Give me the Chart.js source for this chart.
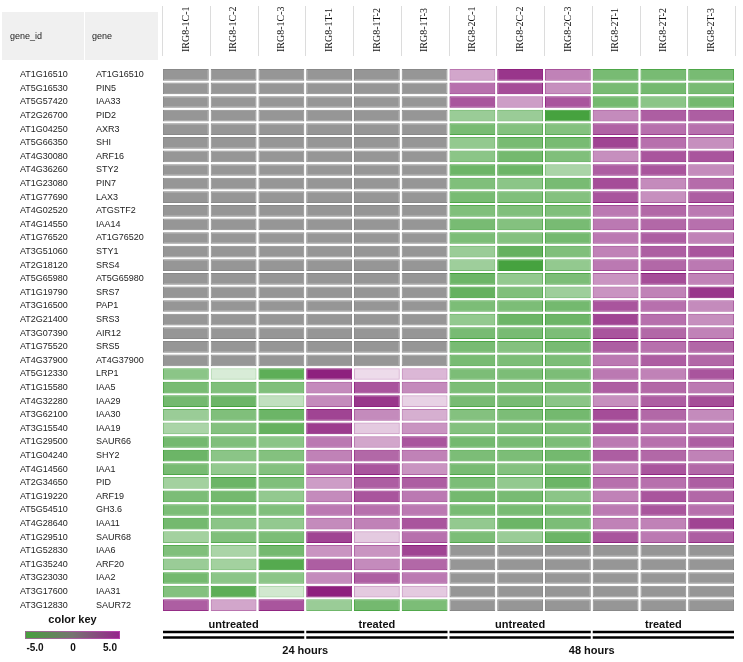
<!DOCTYPE html>
<html>
<head>
<meta charset="utf-8">
<title>Heatmap auxin genes</title>
<script src="https://cdn.jsdelivr.net/npm/chart.js@4.4.1/dist/chart.umd.min.js"></script>
<style>
  body { margin: 0; background: #fff; }
  #wadah { width: 743px; height: 662px; }
</style>
</head>
<body>
<div id="wadah"><canvas id="grafikHeatmap"></canvas></div>
<script>
// Rows (top to bottom)
const geneIds = [
  'AT1G16510', 'AT5G16530', 'AT5G57420', 'AT2G26700', 'AT1G04250', 'AT5G66350', 'AT4G30080', 'AT4G36260',
  'AT1G23080', 'AT1G77690', 'AT4G02520', 'AT4G14550', 'AT1G76520', 'AT3G51060', 'AT2G18120', 'AT5G65980',
  'AT1G19790', 'AT3G16500', 'AT2G21400', 'AT3G07390', 'AT1G75520', 'AT4G37900', 'AT5G12330', 'AT1G15580',
  'AT4G32280', 'AT3G62100', 'AT3G15540', 'AT1G29500', 'AT1G04240', 'AT4G14560', 'AT2G34650', 'AT1G19220',
  'AT5G54510', 'AT4G28640', 'AT1G29510', 'AT1G52830', 'AT1G35240', 'AT3G23030', 'AT3G17600', 'AT3G12830'
];
const genes = [
  'AT1G16510', 'PIN5', 'IAA33', 'PID2', 'AXR3', 'SHI', 'ARF16', 'STY2',
  'PIN7', 'LAX3', 'ATGSTF2', 'IAA14', 'AT1G76520', 'STY1', 'SRS4', 'AT5G65980',
  'SRS7', 'PAP1', 'SRS3', 'AIR12', 'SRS5', 'AT4G37900', 'LRP1', 'IAA5',
  'IAA29', 'IAA30', 'IAA19', 'SAUR66', 'SHY2', 'IAA1', 'PID', 'ARF19',
  'GH3.6', 'IAA11', 'SAUR68', 'IAA6', 'ARF20', 'IAA2', 'IAA31', 'SAUR72'
];

// Columns
const samples = [
  'IRG8-1C-1', 'IRG8-1C-2', 'IRG8-1C-3', 'IRG8-1T-1', 'IRG8-1T-2', 'IRG8-1T-3',
  'IRG8-2C-1', 'IRG8-2C-2', 'IRG8-2C-3', 'IRG8-2T-1', 'IRG8-2T-2', 'IRG8-2T-3'
];
const conditions = ['untreated', 'treated', 'untreated', 'treated'];
const timepoints = ['24 hours', '48 hours'];
const keyTicks = ['-5.0', '0', '5.0'];

// Expression values per sample (null = no data, drawn gray)
const IRG8_1C_1 = [
  null, null, null, null, null, null, null, null, null, null, null,
  null, null, null, null, null, null, null, null, null, null, null,
  -3.0, -3.5, -3.6, -2.6, -2.2, -3.6, -3.8, -3.5, -2.4, -3.4, -3.4, -3.6, -2.4,
  -3.3, -2.6, -3.6, -3.2, 3.6
];
const IRG8_1C_2 = [
  null, null, null, null, null, null, null, null, null, null, null,
  null, null, null, null, null, null, null, null, null, null, null,
  -1.0, -3.3, -3.8, -3.3, -3.2, -3.3, -3.0, -2.8, -3.8, -3.6, -3.4, -3.0, -3.3,
  -2.2, -2.4, -3.0, -4.2, 2.0
];
const IRG8_1C_3 = [
  null, null, null, null, null, null, null, null, null, null, null,
  null, null, null, null, null, null, null, null, null, null, null,
  -4.2, -3.3, -1.6, -3.8, -4.0, -3.0, -3.2, -3.2, -3.3, -2.8, -3.3, -2.8, -3.4,
  -3.6, -4.4, -3.0, -1.2, 3.8
];
const IRG8_1T_1 = [
  null, null, null, null, null, null, null, null, null, null, null,
  null, null, null, null, null, null, null, null, null, null, null,
  5.0, 2.6, 2.6, 4.2, 4.4, 3.0, 2.8, 3.2, 2.2, 2.6, 3.0, 2.6, 4.2,
  2.4, 3.6, 2.6, 5.0, -2.6
];
const IRG8_1T_2 = [
  null, null, null, null, null, null, null, null, null, null, null,
  null, null, null, null, null, null, null, null, null, null, null,
  0.8, 3.8, 4.5, 2.6, 1.2, 2.0, 3.4, 3.8, 3.6, 3.8, 3.2, 2.8, 1.2,
  2.4, 2.6, 3.6, 1.2, -3.6
];
const IRG8_1T_3 = [
  null, null, null, null, null, null, null, null, null, null, null,
  null, null, null, null, null, null, null, null, null, null, null,
  1.6, 2.6, 1.0, 1.8, 2.4, 3.8, 2.8, 2.4, 3.6, 3.0, 3.0, 3.8, 3.2,
  4.2, 3.4, 3.0, 1.2, -3.4
];
const IRG8_2C_1 = [
  2.0, 3.2, 3.8, -2.6, -3.5, -2.8, -3.0, -3.8, -3.3, -3.5, -3.3, -3.5, -3.4, -2.6, -2.5, -3.8, -4.0, -3.4,
  -2.8, -3.5, -3.5, -3.5, -3.4, -3.4, -3.5, -3.2, -3.2, -3.6, -3.4, -3.5, -3.4, -3.6, -3.5, -2.8, -3.4,
  null, null, null, null, null
];
const IRG8_2C_2 = [
  4.5, 4.0, 2.2, -2.6, -3.2, -3.5, -3.6, -3.8, -3.0, -3.3, -3.3, -3.2, -3.2, -4.0, -4.8, -2.8, -3.3, -3.4,
  -3.8, -3.5, -3.2, -3.4, -3.4, -3.4, -3.5, -3.4, -3.4, -3.5, -3.4, -3.2, -2.8, -3.5, -3.5, -3.8, -2.6,
  null, null, null, null, null
];
const IRG8_2C_3 = [
  2.8, 2.5, 3.8, -4.8, -3.2, -3.5, -3.3, -2.2, -3.5, -3.2, -3.3, -3.5, -3.6, -3.3, -2.8, -3.4, -2.5, -3.6,
  -3.8, -3.4, -3.5, -3.4, -3.4, -3.4, -3.0, -3.6, -3.4, -3.4, -3.6, -3.5, -3.8, -3.0, -3.4, -3.4, -3.8,
  null, null, null, null, null
];
const IRG8_2T_1 = [
  -3.5, -3.5, -3.6, 2.6, 3.5, 4.2, 2.5, 3.6, 4.0, 3.8, 3.0, 3.0, 3.0, 2.8, 3.0, 2.4, 2.4, 3.8,
  4.2, 3.8, 3.6, 3.0, 3.0, 3.6, 2.5, 4.0, 3.8, 3.0, 3.6, 2.8, 3.2, 2.8, 3.0, 2.8, 3.8,
  null, null, null, null, null
];
const IRG8_2T_2 = [
  -3.5, -3.6, -3.0, 3.6, 3.2, 3.2, 3.8, 3.8, 2.6, 2.5, 3.4, 3.4, 3.6, 3.6, 3.4, 4.0, 2.8, 3.2,
  3.2, 3.4, 3.2, 3.6, 2.8, 3.4, 3.6, 3.4, 3.2, 3.2, 3.4, 3.8, 3.2, 3.8, 3.8, 2.8, 3.0,
  null, null, null, null, null
];
const IRG8_2T_3 = [
  -3.5, -3.5, -3.6, 3.6, 3.2, 2.5, 3.8, 2.6, 3.3, 3.6, 3.0, 3.2, 2.8, 3.8, 3.0, 2.8, 4.5, 2.6,
  2.5, 2.8, 3.4, 3.4, 3.8, 3.0, 4.0, 2.6, 3.0, 3.6, 2.8, 3.4, 3.6, 3.4, 3.2, 4.2, 3.6,
  null, null, null, null, null
];

const kolom = [
  IRG8_1C_1, IRG8_1C_2, IRG8_1C_3, IRG8_1T_1, IRG8_1T_2, IRG8_1T_3,
  IRG8_2C_1, IRG8_2C_2, IRG8_2C_3, IRG8_2T_1, IRG8_2T_2, IRG8_2T_3
];

const hijau = [62, 158, 55];
const ungu = [142, 32, 126];

// Cell colour: green (down) / purple (up), strength by |value|, gray for missing
function warnaIsi(v) {
  if (v === null) return 'rgb(150,150,150)';
  const c = v < 0 ? hijau : ungu;
  const a = Math.min(Math.abs(v) / 5, 1);
  return `rgba(${c[0]},${c[1]},${c[2]},${a.toFixed(2)})`;
}
function warnaTepi(v) {
  if (v === null) return 'rgb(136,136,136)';
  const c = v < 0 ? hijau : ungu;
  const a = Math.min(Math.abs(v) / 5 + 0.22, 1);
  return `rgba(${c[0]},${c[1]},${c[2]},${a.toFixed(2)})`;
}

const fontSans = 'Liberation Sans, Arial, sans-serif';

// Header boxes, sample names, column separators, group brackets and colour key
const hiasan = {
  id: 'hiasan',
  afterDraw(chart) {
    const c = chart.ctx;
    const x = chart.scales.x;
    const xTop = chart.scales.xTop;
    const area = chart.chartArea;
    const yGene = chart.scales.y;
    c.save();

    // header boxes for row label columns
    c.fillStyle = '#f0f0f0';
    c.fillRect(2, 12, yGene.left - 14, 48);
    c.fillRect(yGene.left - 11, 12, area.left - yGene.left + 7, 48);
    c.fillStyle = '#222';
    c.font = `9px ${fontSans}`;
    c.textBaseline = 'middle';
    c.textAlign = 'left';
    c.fillText('gene_id', 10, 37);
    c.fillText('gene', yGene.left - 4, 37);

    // separators between sample names
    c.strokeStyle = '#dcdcdc';
    c.lineWidth = 1;
    for (let j = 0; j <= samples.length; j++) {
      const px = Math.round(x.getPixelForValue(j)) + 0.5;
      c.beginPath();
      c.moveTo(px, 6);
      c.lineTo(px, 56);
      c.stroke();
    }

    // sample names, read bottom to top
    c.fillStyle = '#111';
    c.font = '10px Liberation Serif, Times New Roman, serif';
    c.textAlign = 'left';
    c.textBaseline = 'middle';
    samples.forEach((s, i) => {
      c.save();
      c.translate(xTop.getPixelForTick(i), xTop.bottom - 16);
      c.rotate(-Math.PI / 2);
      c.fillText(s, 0, 0);
      c.restore();
    });

    // double bracket lines under each condition group
    c.strokeStyle = '#000';
    c.lineWidth = 2.5;
    for (let g = 0; g < conditions.length; g++) {
      const x0 = x.getPixelForValue(g * 3) + 1;
      const x1 = x.getPixelForValue(g * 3 + 3) - 1;
      [632, 637.5].forEach(yy => {
        c.beginPath();
        c.moveTo(x0, yy);
        c.lineTo(x1, yy);
        c.stroke();
      });
    }

    // colour key
    const kx0 = 25, kx1 = 120, ky = 631;
    c.fillStyle = '#111';
    c.font = `bold 11px ${fontSans}`;
    c.textAlign = 'center';
    c.fillText('color key', (kx0 + kx1) / 2, 620);
    const grad = c.createLinearGradient(kx0, 0, kx1, 0);
    grad.addColorStop(0, 'rgb(70,160,60)');
    grad.addColorStop(0.5, 'rgb(118,116,112)');
    grad.addColorStop(1, 'rgb(150,36,140)');
    c.fillStyle = grad;
    c.fillRect(kx0, ky, kx1 - kx0, 8);
    c.strokeStyle = 'rgba(200,80,190,0.6)';
    c.lineWidth = 1;
    c.strokeRect(kx0 + 0.5, ky + 0.5, kx1 - kx0 - 1, 7);
    c.fillStyle = '#111';
    c.font = `bold 10px ${fontSans}`;
    const keyPos = [35, 73, 110];
    keyTicks.forEach((t, i) => c.fillText(t, keyPos[i], 648));

    c.restore();
  }
};

// Build datasets: one dataset per sample column
const datasets = kolom.map((nilai, j) => ({
  label: samples[j],
  data: nilai.map(() => [j + 0.02, j + 0.98]),
  backgroundColor: nilai.map(v => warnaIsi(v)),
  borderColor: nilai.map(v => warnaTepi(v)),
  borderWidth: 1,
  borderSkipped: false,
  grouped: false,
  barPercentage: 0.86,
  categoryPercentage: 1
}));

const ctx = document.getElementById('grafikHeatmap').getContext('2d');
const grafik = new Chart(ctx, {
  type: 'bar',
  data: { labels: genes, datasets: datasets },
  plugins: [hiasan],
  options: {
    indexAxis: 'y',
    responsive: true,
    maintainAspectRatio: false,
    animation: false,
    layout: { padding: { top: 8, left: 20, right: 8, bottom: 0 } },
    plugins: { legend: { display: false }, tooltip: { enabled: false } },
    scales: {
      x: { type: 'linear', min: 0, max: samples.length, display: false },
      xTop: {
        type: 'category', labels: samples, position: 'top', offset: true,
        grid: { display: false, drawTicks: false }, border: { display: false },
        ticks: { display: false },
        afterFit: s => { s.height = 60; }
      },
      xGroup: {
        type: 'category', labels: conditions, position: 'bottom', offset: true,
        grid: { display: false, drawTicks: false }, border: { display: false },
        ticks: {
          autoSkip: false, maxRotation: 0, padding: 6, color: '#111',
          font: { family: fontSans, size: 11, weight: 'bold' }
        },
        afterFit: s => { s.height = 20; }
      },
      xTime: {
        type: 'category', labels: timepoints, position: 'bottom', weight: 1, offset: true,
        grid: { display: false, drawTicks: false }, border: { display: false },
        ticks: {
          autoSkip: false, maxRotation: 0, padding: 12, color: '#111',
          font: { family: fontSans, size: 11, weight: 'bold' }
        },
        afterFit: s => { s.height = 30; }
      },
      y: {
        type: 'category', position: 'left', offset: true,
        grid: { display: false, drawTicks: false }, border: { display: false },
        ticks: {
          autoSkip: false, crossAlign: 'far', padding: 0, color: '#222',
          font: { family: fontSans, size: 9 }
        },
        afterFit: s => { s.width = 66; }
      },
      yId: {
        type: 'category', labels: geneIds, position: 'left', weight: 1, offset: true,
        grid: { display: false, drawTicks: false }, border: { display: false },
        ticks: {
          autoSkip: false, crossAlign: 'far', padding: 0, color: '#222',
          font: { family: fontSans, size: 9 }
        },
        afterFit: s => { s.width = 76; }
      }
    }
  }
});
</script>
</body>
</html>
